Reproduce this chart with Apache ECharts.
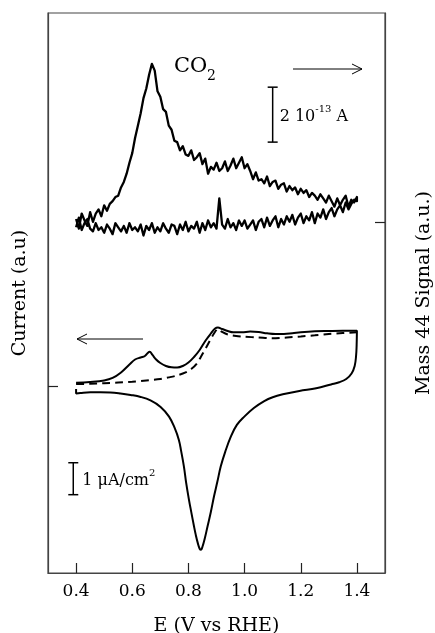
<!DOCTYPE html>
<html><head><meta charset="utf-8">
<script src="https://cdn.jsdelivr.net/npm/echarts@6/dist/echarts.min.js"></script>
<style>html,body{margin:0;padding:0;background:#fff}#c{width:435px;height:633px}</style>
</head><body><div id="c"></div>
<script>
// ---------- DATA ----------
const xTicks = [0.4, 0.6, 0.8, 1.0, 1.2, 1.4];
const xTickLabels = ['0.4', '0.6', '0.8', '1.0', '1.2', '1.4'];

// CV, first cycle (CO stripping), anodic branch
const cvAnodicE = [0.40,0.45,0.50,0.53,0.56,0.59,0.61,0.63,0.645,0.655,0.662,0.672,0.685,0.70,0.72,0.74,0.76,0.78,0.80,0.82,0.84,0.86,0.88,0.895,0.905,0.92,0.94,0.96,0.99,1.02,1.05,1.08,1.11,1.14,1.17,1.20,1.25,1.30,1.35,1.40];
const cvAnodicI = [0.125,0.147,0.194,0.272,0.444,0.694,0.85,0.9125,0.959,1.053,1.094,0.991,0.85,0.741,0.647,0.606,0.6,0.647,0.756,0.928,1.147,1.428,1.663,1.819,1.85,1.803,1.74,1.7,1.7,1.725,1.71,1.669,1.647,1.647,1.669,1.7,1.731,1.741,1.747,1.747];
// CV cathodic branch
const cvCathodicE = [1.399,1.397,1.392,1.381,1.362,1.337,1.308,1.255,1.195,1.136,1.10,1.07,1.033,0.999,0.9725,0.951,0.931,0.915,0.903,0.891,0.880,0.868,0.858,0.850,0.845,0.840,0.833,0.826,0.820,0.810,0.802,0.792,0.784,0.774,0.766,0.751,0.731,0.701,0.665,0.630,0.594,0.558,0.522,0.487,0.451,0.415,0.40,0.40];
const cvCathodicI = [1.30,0.96,0.647,0.4125,0.24,0.1375,0.069,-0.05,-0.134,-0.24,-0.33,-0.45,-0.666,-0.9375,-1.197,-1.5625,-2.04,-2.5,-2.978,-3.4375,-3.916,-4.375,-4.76,-5.01,-5.10,-5.07,-4.88,-4.63,-4.375,-3.916,-3.54,-3.01,-2.5,-2.01,-1.666,-1.29,-0.9375,-0.634,-0.431,-0.322,-0.259,-0.2125,-0.181,-0.175,-0.175,-0.197,-0.2125,-0.072];
// CV second cycle anodic (dashed)
const cvSecondE = [0.40,0.45,0.50,0.55,0.60,0.65,0.70,0.73,0.76,0.79,0.81,0.83,0.85,0.87,0.89,0.905,0.92,0.94,0.97,1.00,1.05,1.10,1.15,1.20,1.25,1.30,1.35,1.40];
const cvSecondI = [0.084,0.09,0.106,0.131,0.156,0.194,0.24,0.29,0.35,0.444,0.553,0.725,1.02,1.334,1.647,1.80,1.71,1.63,1.584,1.5625,1.5375,1.5125,1.5375,1.569,1.606,1.647,1.678,1.70];

// Mass 44 signal (units of 1e-13 A), sampled every 0.01 V
const msE = [0.40,0.41,0.42,0.43,0.44,0.45,0.46,0.47,0.48,0.49,
  0.50,0.51,0.52,0.53,0.54,0.55,0.56,0.57,0.58,0.59,
  0.60,0.61,0.62,0.63,0.64,0.65,0.66,0.67,0.68,0.69,
  0.70,0.71,0.72,0.73,0.74,0.75,0.76,0.77,0.78,0.79,
  0.80,0.81,0.82,0.83,0.84,0.85,0.86,0.87,0.88,0.89,
  0.90,0.91,0.92,0.93,0.94,0.95,0.96,0.97,0.98,0.99,
  1.00,1.01,1.02,1.03,1.04,1.05,1.06,1.07,1.08,1.09,
  1.10,1.11,1.12,1.13,1.14,1.15,1.16,1.17,1.18,1.19,
  1.20,1.21,1.22,1.23,1.24,1.25,1.26,1.27,1.28,1.29,
  1.30,1.31,1.32,1.33,1.34,1.35,1.36,1.37,1.38,1.39,
  1.40];
const msAnodic = [0.10,-0.25,0.30,0.05,-0.15,0.35,0.00,0.30,0.45,0.20,
  0.60,0.40,0.65,0.75,0.90,0.95,1.25,1.45,1.75,2.15,
  2.50,3.05,3.50,3.95,4.50,4.85,5.35,5.75,5.50,4.75,
  4.55,4.10,4.00,3.50,3.35,2.95,2.90,2.60,2.75,2.45,
  2.40,2.60,2.25,2.35,2.50,2.10,2.30,1.75,2.00,1.90,
  2.15,1.85,1.95,2.20,1.85,2.05,2.30,1.95,2.15,2.35,
  1.95,2.10,1.85,1.55,1.80,1.50,1.55,1.40,1.65,1.30,
  1.45,1.50,1.20,1.35,1.40,1.10,1.30,1.15,1.25,1.00,
  1.20,1.05,1.15,0.90,1.05,0.95,0.80,1.00,0.85,0.70,
  0.95,0.75,0.55,0.85,0.60,0.80,0.95,0.55,0.80,0.70,
  0.90];
// cathodic return, listed at the same potentials (0.40 ... 1.40)
const msCathodic = [-0.20,0.15,-0.30,-0.05,0.10,-0.25,-0.35,-0.05,-0.30,-0.20,
  -0.40,-0.10,-0.25,-0.45,-0.05,-0.20,-0.35,-0.15,-0.40,-0.05,
  -0.30,-0.20,-0.35,-0.10,-0.50,-0.15,-0.30,-0.05,-0.40,-0.20,
  -0.35,-0.05,-0.25,-0.40,-0.10,-0.15,-0.45,-0.10,-0.30,0.00,
  -0.35,-0.15,-0.25,0.00,-0.40,-0.05,-0.30,0.05,-0.20,-0.05,
  -0.25,0.85,-0.10,-0.25,0.10,-0.20,-0.05,-0.30,0.05,-0.15,
  0.05,-0.25,-0.10,0.05,-0.30,0.00,0.10,-0.20,0.15,-0.15,
  0.05,0.20,-0.20,0.10,-0.10,0.20,0.00,0.25,-0.10,0.15,
  0.30,-0.05,0.20,0.05,0.35,-0.05,0.30,0.15,0.45,0.10,
  0.35,0.50,0.20,0.45,0.60,0.35,0.70,0.45,0.65,0.80,
  0.75];

// ---------- CHART ----------
const FONT = 'DejaVu Serif';
const zip = (a, b) => a.map((v, i) => [v, b[i]]);
const cvFirst = zip(cvAnodicE, cvAnodicI).concat(zip(cvCathodicE, cvCathodicI));
const cvSecond = zip(cvSecondE, cvSecondI);
const msData = zip(msE, msAnodic).concat(zip(msE, msCathodic).reverse());

const chart = echarts.init(document.getElementById('c'), null, { renderer: 'canvas' });
const axisLine = { show: true, onZero: false, lineStyle: { color: '#444', width: 1.2 } };
chart.setOption({
  animation: false,
  backgroundColor: '#fff',
  grid: { left: 48, right: 50, top: 13, bottom: 60, containLabel: false, outerBoundsMode: 'none', show: true, borderColor: '#444', borderWidth: 1.2 },
  xAxis: {
    type: 'value', min: 0.3, max: 1.5,
    axisLine: axisLine,
    axisTick: { show: true, inside: true, length: 10, customValues: xTicks, lineStyle: { color: '#222', width: 1.2 } },
    axisLabel: { customValues: xTicks, formatter: v => xTickLabels[xTicks.findIndex(t => Math.abs(t - v) < 1e-6)] || '', margin: 10, fontFamily: FONT, fontSize: 17, color: '#000' },
    splitLine: { show: false },
    name: 'E (V vs RHE)', nameLocation: 'middle', nameGap: 44,
    nameTextStyle: { fontFamily: FONT, fontSize: 19, color: '#000' }
  },
  yAxis: [{
    type: 'value', min: -5.83, max: 11.69, position: 'left',
    axisLine: axisLine,
    axisTick: { show: true, inside: true, length: 10, customValues: [0], lineStyle: { color: '#222', width: 1.2 } },
    axisLabel: { show: false }, splitLine: { show: false },
    name: 'Current (a.u)', nameLocation: 'middle', nameGap: 18, nameRotate: 90,
    nameTextStyle: { fontFamily: FONT, fontSize: 19, color: '#000' }
  }, {
    type: 'value', min: -12.785, max: 7.6, position: 'right',
    axisLine: axisLine,
    axisTick: { show: true, inside: true, length: 10, customValues: [0], lineStyle: { color: '#222', width: 1.2 } },
    axisLabel: { show: false }, splitLine: { show: false },
    name: 'Mass 44 Signal (a.u.)', nameLocation: 'middle', nameGap: 30, nameRotate: 90,
    nameTextStyle: { fontFamily: FONT, fontSize: 19, color: '#000' }
  }],
  series: [
    { type: 'line', yAxisIndex: 0, data: cvSecond, showSymbol: false, smooth: 0.3, lineStyle: { color: '#000', width: 2, type: [8, 5] } },
    { type: 'line', yAxisIndex: 0, data: cvFirst, showSymbol: false, smooth: 0.4, lineStyle: { color: '#000', width: 2 } },
    { type: 'line', yAxisIndex: 1, data: msData, showSymbol: false, smooth: false, lineStyle: { color: '#000', width: 2.3, join: 'round' } }
  ]
});

// ---------- ANNOTATIONS ----------
const px = (x, y, yi) => chart.convertToPixel({ xAxisIndex: 0, yAxisIndex: yi }, [x, y]);
function scaleBar(x, y0, len, yi) {
  const a = px(x, y0, yi), b = px(x, y0 + len, yi);
  return [
    { type: 'line', shape: { x1: a[0], y1: a[1], x2: b[0], y2: b[1] }, style: { stroke: '#000', lineWidth: 1.5 } },
    { type: 'line', shape: { x1: a[0] - 5, y1: a[1], x2: a[0] + 5, y2: a[1] }, style: { stroke: '#000', lineWidth: 1.5 } },
    { type: 'line', shape: { x1: b[0] - 5, y1: b[1], x2: b[0] + 5, y2: b[1] }, style: { stroke: '#000', lineWidth: 1.5 } }
  ];
}
function arrow(x1, y, x2) {
  const d = x2 > x1 ? -1 : 1;
  return [
    { type: 'line', shape: { x1: x1, y1: y, x2: x2, y2: y }, style: { stroke: '#000', lineWidth: 1 } },
    { type: 'polyline', shape: { points: [[x2 + d * 10, y - 5], [x2, y], [x2 + d * 10, y + 5]] }, style: { stroke: '#000', lineWidth: 1, fill: null } }
  ];
}
const msBar = px(1.1, 2.9, 1);
const cvBar = px(0.39, -3.38, 0);
const txt = (x, y, text, size, extra) => Object.assign({
  type: 'text', x: x, y: y,
  style: Object.assign({ text: text, fill: '#000', fontFamily: FONT, fontSize: size, align: 'left', verticalAlign: 'middle', textAlign: 'left', textVerticalAlign: 'middle' }, extra || {})
});
const richSup = {
  n: { fontFamily: FONT, fontSize: 16, fill: '#000', verticalAlign: 'bottom', lineHeight: 20 },
  s: { fontFamily: FONT, fontSize: 10, fill: '#000', verticalAlign: 'top', lineHeight: 20 }
};
chart.setOption({
  graphic: [].concat(
    scaleBar(1.1, 2.9, 2, 1),
    scaleBar(0.39, -3.38, 1, 0),
    arrow(293, 69, 362),
    arrow(143, 339, 77),
    [
      txt(174, 67, 'CO', 21),
      txt(207, 76, '2', 14),
      txt(msBar[0] + 7, px(1.1, 3.9, 1)[1], '{n|2 10}{s|-13}{n| A}', 16, { rich: richSup }),
      txt(cvBar[0] + 9, px(0.39, -2.88, 0)[1], '{n|1 μA/cm}{s|2}', 16, { rich: richSup })
    ]
  )
});
</script></body></html>
